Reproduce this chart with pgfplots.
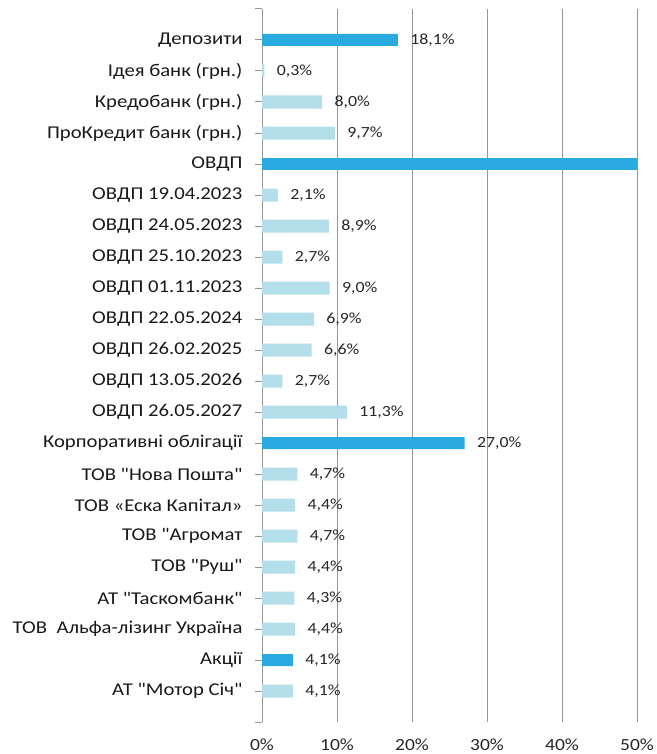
\documentclass[border=0pt]{standalone}
\usepackage{pgfplots}
\pgfplotsset{compat=1.18}
\usepackage{pgfplotstable}
\usepackage{fontspec}
\setmainfont{Carlito}[FakeStretch=1.15, Ligatures=TeXOff]
\definecolor{darkb}{RGB}{41,171,226}
\definecolor{lightb}{RGB}{180,222,234}
\definecolor{gridc}{RGB}{150,150,150}
\pgfplotstableread{
x y
18.1 0
27.0 13
4.1 20
}\darkdata
\pgfplotstableread{
x y
50.2 4
}\ovdpdata
\pgfplotstableread{
x y
0.3 1
8.0 2
9.7 3
2.1 5
8.9 6
2.7 7
9.0 8
6.9 9
6.6 10
2.7 11
11.3 12
4.7 14
4.4 15
4.7 16
4.4 17
4.3 18
4.4 19
4.1 21
}\lightdata
\begin{document}
\begin{tikzpicture}
\begin{axis}[
  at={(262pt,32pt)}, anchor=south west,
  scale only axis, width=375pt, height=713pt,
  xmin=0, xmax=50, ymin=-1, ymax=22,
  y dir=reverse,
  axis lines*=left,
  x axis line style={draw=none},
  y axis line style={draw=gridc, line width=1pt},
  xmajorgrids, grid style={gridc, line width=0.9pt},
  xtick={0,10,20,30,40,50},
  xticklabels={0\%,10\%,20\%,30\%,40\%,50\%},
  xtick style={draw=none},
  xticklabel style={font=\fontsize{17}{20}\selectfont, yshift=-6pt, text=black!85},
  ytick={0,...,21},
  yticklabels={Депозити,Ідея банк (грн.),Кредобанк (грн.),ПроКредит банк (грн.),ОВДП,ОВДП 19.04.2023,ОВДП 24.05.2023,ОВДП 25.10.2023,ОВДП 01.11.2023,ОВДП 22.05.2024,ОВДП 26.02.2025,ОВДП 13.05.2026,ОВДП 26.05.2027,Корпоративні облігації,ТОВ "Нова Пошта",ТОВ «Еска Капітал»,ТОВ "Агромат,ТОВ "Руш",АТ "Таскомбанк",ТОВ\ \ Альфа-лізинг Україна,Акції,АТ "Мотор Січ"},
  extra y ticks={-1,22},
  extra y tick labels={},
  extra y tick style={major tick length=7pt, tick align=outside, tick style={draw=gridc, line width=1pt}},
  ytick style={draw=gridc, line width=1pt},
  major tick length=7pt, tick align=outside,
  yticklabel style={font=\fontsize{18}{21}\selectfont, text=black!90, xshift=-9pt},
  xbar, bar shift=0pt,
  nodes near coords={\pgfmathprintnumber[fixed,fixed zerofill,precision=1,use comma,assume math mode=true]{\pgfplotspointmeta}\%},
  point meta=x,
  nodes near coords style={font=\fontsize{15.5}{18}\selectfont, text=black!85, anchor=west, xshift=9pt},
]
\addplot[fill=darkb, draw=none, bar width=12pt] table[x=x,y=y] {\darkdata};
\addplot[fill=darkb, draw=none, bar width=12pt, nodes near coords={}] table[x=x,y=y] {\ovdpdata};
\addplot[fill=lightb, draw=none, bar width=13pt] table[x=x,y=y] {\lightdata};
\end{axis}
\pgfresetboundingbox
\path[use as bounding box] (0,0) rectangle (656pt,754pt);
\end{tikzpicture}
\end{document}
